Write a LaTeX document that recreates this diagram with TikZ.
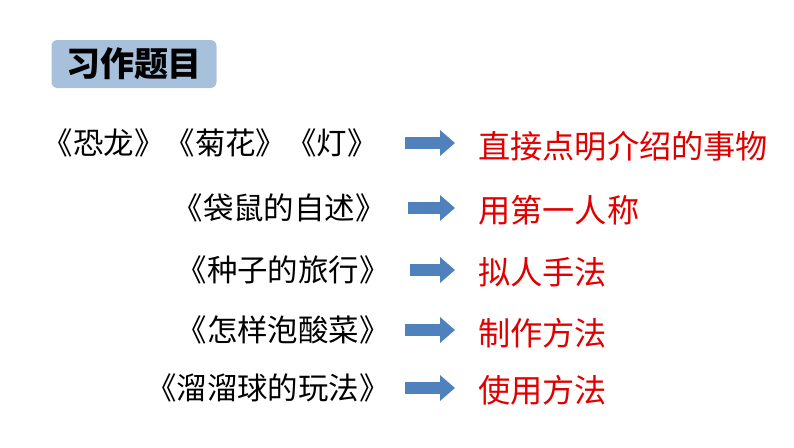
\documentclass[tikz,border=0pt]{standalone}
\usepackage{fontspec}
\setmainfont{Noto Sans CJK SC}
\usetikzlibrary{arrows.meta}
\definecolor{boxblue}{HTML}{A7C1DD}
\definecolor{arrowblue}{HTML}{4F81BD}
\definecolor{redtext}{HTML}{E00000}
\tikzset{
  booktitle/.style={anchor=east,inner sep=0pt,font=\fontsize{26}{30}\selectfont},
  method/.style={anchor=west,inner sep=0pt,text=redtext,font=\fontsize{27.5}{30}\selectfont},
  blockarrow/.style={arrowblue,line width=0.36cm,-{Triangle[length=0.45cm,width=0.75cm]}}
}
\begin{document}
\begin{tikzpicture}[x=0.03cm,y=-0.03cm]
    \useasboundingbox (0,0) rectangle (794,447);

    \node[fill=boxblue,rounded corners=5pt,minimum width=165*0.03cm,minimum height=48*0.03cm,
      font=\bfseries\fontsize{29}{32}\selectfont] (title) at (134,64) {习作题目};

    \node[booktitle] (b1) at (378,143) {《恐龙》《菊花》《灯》};
    \node[booktitle] (b2) at (386,208) {《袋鼠的自述》};
    \node[booktitle] (b3) at (390,270) {《种子的旅行》};
    \node[booktitle] (b4) at (390,330) {《怎样泡酸菜》};
    \node[booktitle] (b5) at (390,388) {《溜溜球的玩法》};

    \node[method] (m1) at (478,146) {直接点明介绍的事物};
    \node[method] (m2) at (478,210) {用第一人称};
    \node[method] (m3) at (478,272) {拟人手法};
    \node[method] (m4) at (478,333) {制作方法};
    \node[method] (m5) at (478,390) {使用方法};

    \coordinate (e1) at (455,143);
    \coordinate (e2) at (455,208);
    \coordinate (e3) at (455,270);
    \coordinate (e4) at (455,330);
    \coordinate (e5) at (455,388);
    \draw[blockarrow] (405,143) -- (e1);
    \draw[blockarrow] (408,208) -- (e2);
    \draw[blockarrow] (410,270) -- (e3);
    \draw[blockarrow] (405,330) -- (e4);
    \draw[blockarrow] (405,388) -- (e5);
\end{tikzpicture}
\end{document}
